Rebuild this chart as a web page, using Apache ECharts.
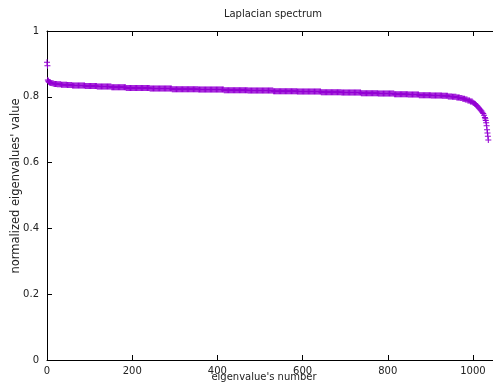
<!DOCTYPE html>
<html>
<head>
<meta charset="utf-8">
<script src="https://cdn.jsdelivr.net/npm/echarts@6/dist/echarts.min.js"></script>
<style>
html,body{margin:0;padding:0;background:#fff;}
#chart{width:493px;height:388px;}
</style>
</head>
<body>
<div id="chart"></div>
<script>
const titleText = 'Laplacian spectrum';
const xName = "eigenvalue's number";
const yName = "normalized eigenvalues' value";
const xTickLabels = [0, 200, 400, 600, 800, 1000];
const yTickLabels = [0, 0.2, 0.4, 0.6, 0.8, 1];

// eigenvalue index step of the main list (indices 0,2,4,...,1036)
const indexStep = 2;
const eigenvalues = [
.905,.851,.846,.844,.843,.842,.841,.841,.840,.839,
.839,.839,.838,.838,.838,.838,.838,.837,.837,.837,
.837,.837,.837,.837,.836,.836,.836,.836,.836,.836,
.834,.834,.834,.834,.834,.834,.834,.834,.834,.834,
.834,.834,.834,.834,.834,.833,.833,.833,.833,.833,
.833,.833,.833,.833,.833,.833,.833,.833,.833,.831,
.831,.831,.831,.831,.831,.831,.831,.831,.831,.831,
.831,.831,.831,.831,.831,.831,.829,.829,.829,.829,
.829,.829,.829,.829,.829,.829,.829,.829,.829,.829,
.829,.829,.829,.827,.827,.827,.827,.827,.827,.827,
.827,.827,.827,.827,.827,.827,.827,.827,.827,.827,
.827,.827,.827,.827,.827,.827,.827,.827,.827,.827,
.827,.825,.825,.825,.825,.825,.825,.825,.825,.825,
.825,.825,.825,.825,.825,.825,.825,.825,.825,.825,
.825,.825,.825,.825,.825,.825,.825,.823,.823,.823,
.823,.823,.823,.823,.823,.823,.823,.823,.823,.823,
.823,.823,.823,.823,.823,.823,.823,.823,.823,.823,
.823,.823,.823,.823,.823,.823,.823,.823,.822,.822,
.822,.822,.822,.822,.822,.822,.822,.822,.822,.822,
.822,.822,.822,.822,.822,.822,.822,.822,.822,.822,
.822,.822,.822,.822,.822,.822,.822,.822,.820,.820,
.820,.820,.820,.820,.820,.820,.820,.820,.820,.820,
.820,.820,.820,.820,.820,.820,.820,.820,.820,.820,
.820,.820,.820,.820,.820,.820,.819,.819,.819,.819,
.819,.819,.819,.819,.819,.819,.819,.819,.819,.819,
.819,.819,.819,.819,.819,.819,.819,.819,.819,.819,
.819,.819,.819,.819,.819,.819,.817,.817,.817,.817,
.817,.817,.817,.817,.817,.817,.817,.817,.817,.817,
.817,.817,.817,.817,.817,.817,.817,.817,.817,.817,
.817,.817,.817,.817,.816,.816,.816,.816,.816,.816,
.816,.816,.816,.816,.816,.816,.816,.816,.816,.816,
.816,.816,.816,.816,.816,.816,.816,.816,.816,.816,
.816,.816,.814,.814,.814,.814,.814,.814,.814,.814,
.814,.814,.814,.814,.814,.814,.814,.814,.814,.814,
.814,.814,.814,.814,.814,.814,.813,.813,.813,.813,
.813,.813,.813,.813,.813,.813,.813,.813,.813,.813,
.813,.813,.813,.813,.813,.813,.813,.813,.813,.811,
.811,.811,.811,.811,.811,.811,.811,.811,.811,.811,
.811,.811,.811,.811,.811,.811,.811,.811,.811,.810,
.810,.810,.810,.810,.810,.810,.810,.810,.810,.810,
.810,.810,.810,.810,.810,.810,.810,.810,.808,.808,
.808,.808,.808,.808,.808,.808,.808,.808,.808,.808,
.808,.808,.808,.808,.807,.807,.807,.807,.807,.807,
.807,.807,.807,.807,.807,.807,.807,.805,.805,.805,
.805,.805,.805,.805,.805,.805,.805,.805,.805,.805,
.805,.804,.804,.804,.804,.804,.804,.804,.804,.804,
.804,.804,.804,.804,.803,.803,.803,.803,.803,.803,
.803,.801,.801,.801,.801,.801,.800,.800,.800,.800,
.800,.798,.798,.798,.798,.796,.796,.796,.794,.794,
.794,.792,.792,.792,.789,.789,.789,.786,.786,.786,
.783,.781,.779,.777,.774,.772,.769,.766,.763,.760,
.757,.753,.749,.744,.737,.728,.712,.690,.669
];
// a few extra eigenvalues at odd indices where the curve is steep
const extraIndex = [1, 3, 5, 7, 1029, 1031, 1033, 1035];
const extraValue = [.894, .848, .845, .843, .733, .721, .700, .680];

const pointData = eigenvalues.map((v, i) => [i * indexStep, v])
  .concat(extraIndex.map((x, i) => [x, extraValue[i]]));

const FONT = '"DejaVu Sans", sans-serif';
const TXT = '#222';
const chart = echarts.init(document.getElementById('chart'), null, {renderer: 'canvas'});
const axisLineStyle = {color: '#000', width: 1};
const X_MAX = 1047;

chart.setOption({
  animation: false,
  backgroundColor: '#fff',
  grid: {left: 47, right: -3, top: 31, bottom: 28, containLabel: false},
  xAxis: [{
    type: 'value', min: 0, max: X_MAX, interval: 200, position: 'bottom',
    axisLine: {show: true, onZero: false, lineStyle: axisLineStyle},
    axisTick: {show: true, inside: true, length: 5, lineStyle: axisLineStyle},
    axisLabel: {show: true, margin: 6, color: TXT, fontSize: 10, fontFamily: FONT,
      showMaxLabel: false,
      formatter: v => xTickLabels.includes(v) ? String(v) : ''},
    splitLine: {show: false}
  }, {
    type: 'value', min: 0, max: X_MAX, interval: 200, position: 'top',
    axisLine: {show: true, onZero: false, lineStyle: axisLineStyle},
    axisTick: {show: true, inside: true, length: 5, lineStyle: axisLineStyle},
    axisLabel: {show: false},
    splitLine: {show: false}
  }],
  yAxis: [{
    type: 'value', min: 0, max: 1, interval: 0.2,
    axisLine: {show: true, onZero: false, lineStyle: axisLineStyle},
    axisTick: {show: true, inside: true, length: 5, lineStyle: axisLineStyle},
    axisLabel: {show: true, margin: 8, color: TXT, fontSize: 10, fontFamily: FONT,
      formatter: v => {
        const hit = yTickLabels.find(t => Math.abs(t - v) < 1e-9);
        return hit === undefined ? '' : String(hit);
      }},
    splitLine: {show: false}
  }],
  graphic: [
    {type: 'text', x: 273, y: 14.5, silent: true,
      style: {text: titleText, fill: TXT, fontSize: 10, fontFamily: FONT, align: 'center', verticalAlign: 'middle'}},
    {type: 'text', x: 264, y: 377.5, silent: true,
      style: {text: xName, fill: TXT, fontSize: 10, fontFamily: FONT, align: 'center', verticalAlign: 'middle'}},
    {type: 'text', x: 16, y: 186, rotation: Math.PI / 2, silent: true,
      style: {text: yName, fill: TXT, fontSize: 11.5, fontFamily: FONT, align: 'center', verticalAlign: 'middle'}}
  ],
  series: [{
    type: 'scatter',
    xAxisIndex: 0, yAxisIndex: 0,
    data: pointData,
    symbol: 'path://M2.5,0H3.5V2.5H6V3.5H3.5V6H2.5V3.5H0V2.5H2.5Z',
    symbolSize: 6,
    symbolKeepAspect: true,
    itemStyle: {color: '#9400d3', opacity: 1},
    emphasis: {disabled: true},
    clip: false
  }]
});
</script>
</body>
</html>
